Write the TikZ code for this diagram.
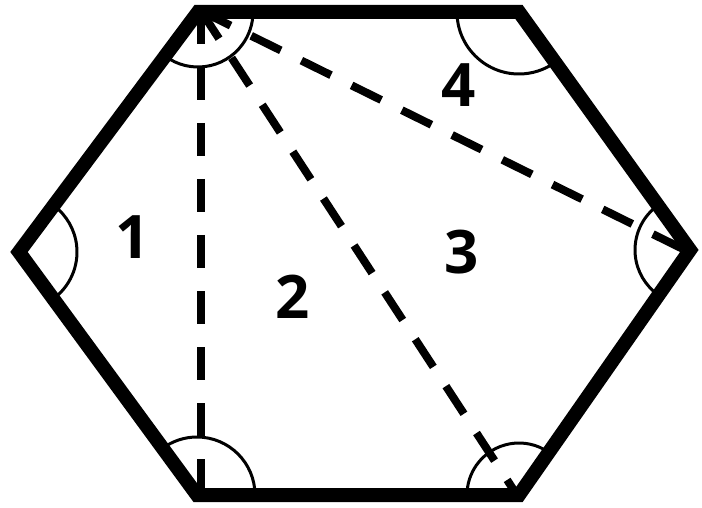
\documentclass[tikz,border=0pt]{standalone}
\usepackage{fontspec}
\setmainfont{Open Sans}
\begin{document}
\begin{tikzpicture}[x=1pt,y=1pt,
  hexedge/.style={line width=14pt, line join=miter},
  anglearc/.style={line width=3pt},
  diag/.style={line width=8pt, dash pattern=on 33pt off 23pt},
  lbl/.style={inner sep=0pt, font=\fontsize{60}{60}\selectfont\bfseries}]
\useasboundingbox (0,0) rectangle (702,507);
\coordinate (V1) at (198,495);
\coordinate (V2) at (519,495);
\coordinate (V3) at (690,257);
\coordinate (V4) at (519,12);
\coordinate (V5) at (197,12);
\coordinate (V6) at (19,255);
\coordinate (S) at (201,496);
\coordinate (E1) at (201,14);
\coordinate (E2) at (515,15);
\coordinate (E3) at (685,257);
% angle arcs
\draw[anglearc] (V1) ++(233.3:55) arc[start angle=233.3, end angle=360, radius=55];
\draw[anglearc] (V2) ++(180:62) arc[start angle=180, end angle=305.7, radius=62];
\draw[anglearc] (V3) ++(125.7:55) arc[start angle=125.7, end angle=235, radius=55];
\draw[anglearc] (V6) ++(-53.8:58) arc[start angle=-53.8, end angle=53.3, radius=58];
\draw[anglearc] (V5) ++(0:58) arc[start angle=0, end angle=126.2, radius=58];
\draw[anglearc] (V4) ++(55.1:52) arc[start angle=55.1, end angle=180, radius=52];
% diagonals
\draw[diag] (S) -- (E1);
\draw[diag] (S) -- (E2);
\draw[diag] (S) -- (E3);
% hexagon
\draw[hexedge] (V1) -- (V2) -- (V3) -- (V4) -- (V5) -- (V6) -- cycle;
% labels
\node[lbl] (n1) at (133,270) {1};
\node[lbl] (n2) at (293,210) {2};
\node[lbl] (n3) at (462,255) {3};
\node[lbl] (n4) at (459,422) {4};
\end{tikzpicture}
\end{document}
